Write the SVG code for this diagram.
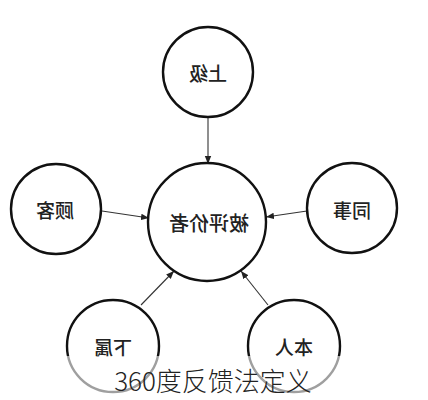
<svg xmlns="http://www.w3.org/2000/svg" width="428" height="400" viewBox="0 0 428 400">
<defs>
<style>
.node circle{fill:#fff;stroke:#111;stroke-width:2.4}
.node text{font-family:"Noto Sans CJK SC","Noto Sans",sans-serif;font-size:19px;font-weight:500;fill:#222;text-anchor:middle;dominant-baseline:central}
.conn line{stroke:#333;stroke-width:1.1;marker-end:url(#ah)}
.cap{font-family:"Noto Sans CJK SC","Noto Sans",sans-serif;font-weight:300;font-size:26px;fill:#222;text-anchor:middle}
</style>
<marker id="ah" viewBox="0 0 10 10" refX="10" refY="5" markerWidth="8" markerHeight="8" markerUnits="userSpaceOnUse" orient="auto">
<path d="M0,1 L10,5 L0,9 Z" fill="#222"/>
</marker>
</defs>
<rect width="428" height="400" fill="#fff"/>
<g class="conn">
<line x1="208" y1="117" x2="208" y2="164"/>
<line x1="102" y1="211" x2="149" y2="218"/>
<line x1="307" y1="211" x2="266" y2="217"/>
<line x1="141" y1="305" x2="174" y2="271"/>
<line x1="268" y1="305" x2="241" y2="271"/>
</g>
<g id="superior" class="node"><circle cx="208" cy="72" r="45"/><text transform="scale(-1,1)" x="-208" y="72">上级</text></g>
<g id="evaluatee" class="node"><circle cx="207" cy="222" r="59"/><text transform="scale(-1,1)" x="-209" y="222" style="font-size:20px">被评价者</text></g>
<g id="customer" class="node"><circle cx="56" cy="209" r="45"/><text transform="scale(-1,1)" x="-55" y="209">顾客</text></g>
<g id="peer" class="node"><circle cx="352" cy="208" r="45"/><text transform="scale(-1,1)" x="-352" y="209">同事</text></g>
<g id="subordinate" class="node"><circle cx="113" cy="346" r="46"/><text transform="scale(-1,1)" x="-113" y="346">下属</text></g>
<g id="self" class="node"><circle cx="294" cy="346" r="46"/><text transform="scale(-1,1)" x="-294" y="346">本人</text></g>
<rect x="0" y="356" width="428" height="44" fill="#fff" fill-opacity="0.6"/>
<text class="cap" x="213" y="391">360度反馈法定义</text>
</svg>
